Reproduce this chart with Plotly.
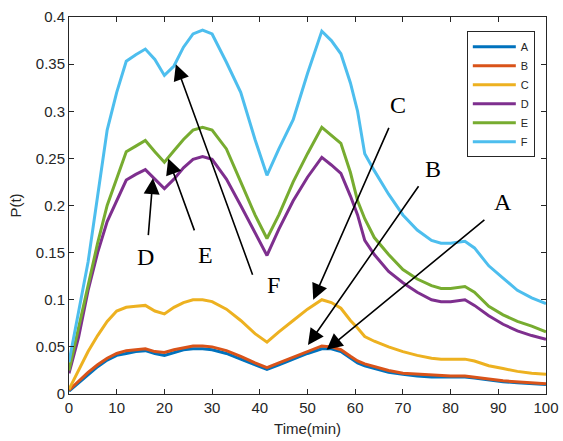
import plotly.graph_objects as go

# Sampling times (min)
time_min = [0, 2, 4, 6, 8, 10, 12, 14, 16, 18, 20, 22, 24, 26, 28, 30, 33, 36, 39, 41.5,
            44, 47, 50, 53, 55, 57, 59, 60.5, 62, 64, 67, 70, 73, 76, 78, 80, 83, 85,
            88, 91, 94, 97, 100]

p_a = [0.003, 0.012, 0.021, 0.029, 0.036, 0.041, 0.043, 0.045, 0.046, 0.043, 0.041, 0.044,
       0.047, 0.048, 0.048, 0.047, 0.043, 0.037, 0.031, 0.026, 0.031, 0.037, 0.043, 0.048,
       0.048, 0.045, 0.038, 0.033, 0.030, 0.027, 0.023, 0.021, 0.019, 0.018, 0.018, 0.018,
       0.018, 0.017, 0.015, 0.013, 0.012, 0.011, 0.010]
p_b = [0.004, 0.014, 0.023, 0.031, 0.038, 0.043, 0.046, 0.047, 0.048, 0.045, 0.044, 0.047,
       0.049, 0.051, 0.051, 0.050, 0.046, 0.040, 0.033, 0.028, 0.033, 0.039, 0.045, 0.051,
       0.050, 0.047, 0.040, 0.035, 0.032, 0.029, 0.025, 0.022, 0.021, 0.020, 0.019, 0.019,
       0.019, 0.018, 0.016, 0.014, 0.013, 0.012, 0.011]
p_c = [0.005, 0.025, 0.045, 0.062, 0.077, 0.088, 0.092, 0.093, 0.094, 0.088, 0.085, 0.092,
       0.097, 0.100, 0.100, 0.098, 0.090, 0.078, 0.064, 0.055, 0.066, 0.078, 0.090, 0.100,
       0.097, 0.091, 0.078, 0.070, 0.061, 0.056, 0.050, 0.045, 0.041, 0.038, 0.037, 0.037,
       0.037, 0.035, 0.030, 0.027, 0.024, 0.022, 0.021]
p_d = [0.022, 0.060, 0.110, 0.150, 0.183, 0.205, 0.227, 0.233, 0.238, 0.228, 0.218, 0.228,
       0.240, 0.249, 0.252, 0.249, 0.228, 0.200, 0.172, 0.147, 0.175, 0.205, 0.230, 0.251,
       0.243, 0.234, 0.210, 0.190, 0.163, 0.148, 0.130, 0.118, 0.108, 0.100, 0.098, 0.098,
       0.100, 0.094, 0.083, 0.074, 0.067, 0.062, 0.058]
p_e = [0.025, 0.070, 0.115, 0.160, 0.200, 0.228, 0.257, 0.263, 0.269, 0.257, 0.246, 0.258,
       0.270, 0.280, 0.283, 0.280, 0.260, 0.225, 0.190, 0.165, 0.190, 0.225, 0.255, 0.283,
       0.275, 0.266, 0.235, 0.205, 0.186, 0.166, 0.148, 0.132, 0.122, 0.115, 0.112, 0.112,
       0.114, 0.108, 0.093, 0.084, 0.077, 0.072, 0.066]
p_f = [0.034, 0.085, 0.140, 0.210, 0.280, 0.320, 0.353, 0.360, 0.366, 0.355, 0.338, 0.348,
       0.368, 0.382, 0.386, 0.382, 0.352, 0.320, 0.270, 0.232, 0.260, 0.291, 0.340, 0.385,
       0.375, 0.361, 0.330, 0.300, 0.255, 0.237, 0.212, 0.190, 0.174, 0.163, 0.160, 0.160,
       0.162, 0.155, 0.136, 0.123, 0.110, 0.102, 0.096]

series_names = ["A", "B", "C", "D", "E", "F"]
series_values = [p_a, p_b, p_c, p_d, p_e, p_f]
series_colors = ["#0072BD", "#D95319", "#EDB120", "#7E2F8E", "#77AC30", "#4DBEEE"]

# Callout labels: (label, arrow tip t, tip P, tail t, tail P, label t, label P)
callouts = [
    ("D", 17.6, 0.229, 16.6, 0.167, 16.1, 0.145),
    ("E", 20.8, 0.250, 26.4, 0.172, 28.7, 0.147),
    ("F", 22.4, 0.350, 38.6, 0.125, 42.9, 0.116),
    ("C", 51.2, 0.100, 67.2, 0.284, 69.0, 0.307),
    ("B", 50.1, 0.052, 73.5, 0.222, 76.3, 0.239),
    ("A", 54.0, 0.047, 87.4, 0.186, 90.9, 0.204),
]

fig = go.Figure()
for name, vals, col in zip(series_names, series_values, series_colors):
    fig.add_trace(go.Scatter(x=time_min, y=vals, mode="lines", name=name,
                             line=dict(color=col, width=3)))

annotations = []
for lab, tx, ty, ax, ay, lx, ly in callouts:
    annotations.append(dict(x=tx, y=ty, ax=ax, ay=ay, xref="x", yref="y",
                            axref="x", ayref="y", text="", showarrow=True,
                            arrowhead=2, arrowsize=2.0, arrowwidth=1.6,
                            arrowcolor="black", standoff=0, startstandoff=0))
    annotations.append(dict(x=lx, y=ly, xref="x", yref="y", text=lab, showarrow=False,
                            font=dict(family="Liberation Serif", size=24, color="black")))

axis_common = dict(showline=True, linecolor="#262626", linewidth=1, mirror="ticks",
                   ticks="inside", ticklen=5, tickcolor="#262626", showgrid=False,
                   zeroline=False, automargin=False,
                   tickfont=dict(family="Liberation Sans", size=15, color="#262626"))

fig.update_layout(
    width=563, height=441,
    margin=dict(l=69, r=17, t=17, b=47),
    plot_bgcolor="white", paper_bgcolor="white",
    font=dict(family="Liberation Sans", color="#262626"),
    xaxis=dict(range=[0, 100], dtick=10, tick0=0,
               title=dict(text="Time(min)", font=dict(size=15), standoff=8),
               **axis_common),
    yaxis=dict(range=[0, 0.4], dtick=0.05, tick0=0,
               title=dict(text="P(t)", font=dict(size=15), standoff=10),
               **axis_common),
    legend=dict(x=0.834, y=0.962, xanchor="left", yanchor="top",
                bgcolor="white", bordercolor="#262626", borderwidth=1,
                font=dict(family="Liberation Sans", size=11, color="#262626"),
                itemwidth=43, tracegroupgap=0),
    annotations=annotations,
)

fig.write_html("out.html")
